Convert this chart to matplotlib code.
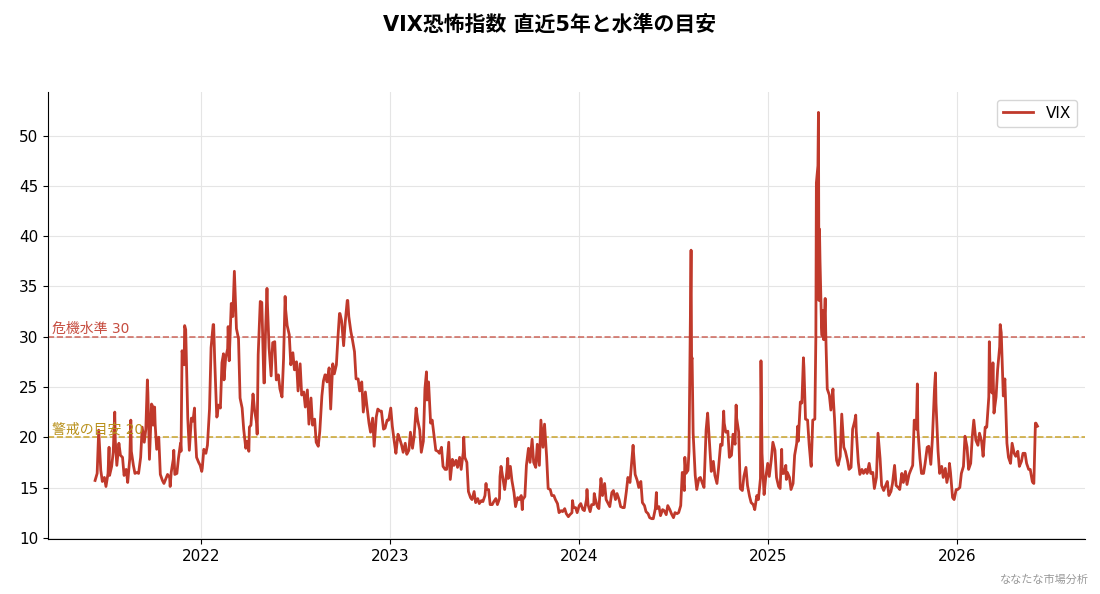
import matplotlib.pyplot as plt
import matplotlib.dates as mdates
import pandas as pd

plt.rcParams['font.family'] = ['DejaVu Sans', 'Noto Sans CJK JP']

# weekly (Friday) closes, one list per calendar year
vix_2021 = [15.7, 20.7, 15.6, 15.1, 16.2, 18.5, 17.2, 18.2, 16.2, 15.5,
            18.6, 16.4, 16.4, 21.0, 20.8, 17.8, 21.2, 18.8, 16.3, 15.4,
            16.3, 16.5, 16.3, 17.9, 28.6, 30.7, 18.7, 21.6, 18.0, 17.2]
vix_2022 = [18.8, 19.2, 28.9, 27.7, 23.2, 27.4, 27.8, 27.6, 32.0, 30.8,
            23.9, 20.8, 19.6, 21.2, 22.7, 28.2, 33.4, 30.2, 28.9, 29.4,
            25.7, 24.8, 27.8, 31.1, 27.2, 26.7, 24.6, 24.2, 23.0, 21.3,
            21.2, 19.5, 20.6, 25.6, 25.5, 22.8, 26.3, 29.9, 31.6, 31.4,
            32.0, 29.7, 25.8, 24.6, 22.5, 23.1, 20.5, 19.1, 22.8, 22.6,
            20.9, 21.7]
vix_2023 = [21.1, 18.4, 19.9, 18.5, 18.3, 20.5, 20.0, 21.7, 18.5, 24.8,
            25.5, 21.7, 18.7, 18.4, 17.1, 16.8, 15.8, 17.2, 17.0, 16.8,
            18.0, 14.6, 13.8, 13.5, 13.4, 13.6, 14.8, 13.3, 13.6, 13.3,
            17.1, 14.8, 15.9, 15.7, 13.1, 13.8, 13.8, 17.2, 17.5, 17.5,
            19.3, 21.7, 21.3, 14.9, 14.2, 13.8, 12.5, 12.6, 12.4, 12.3,
            13.0, 12.5]
vix_2024 = [13.4, 12.7, 13.3, 13.3, 13.9, 12.9, 14.2, 13.8, 13.1, 14.7,
            14.4, 13.1, 13.0, 16.0, 17.3, 16.3, 15.0, 13.5, 12.6, 12.0,
            11.9, 12.9, 12.2, 12.7, 13.2, 12.4, 12.5, 12.5, 16.5, 16.4,
            23.4, 20.4, 14.8, 16.0, 15.0, 22.4, 16.6, 16.2, 16.9, 19.2,
            20.5, 18.0, 20.3, 21.9, 14.9, 16.1, 15.2, 13.5, 12.8, 13.8,
            18.4, 15.9]
vix_2025 = [16.1, 19.5, 16.0, 14.9, 16.4, 16.5, 14.8, 18.2, 19.6, 23.4,
            21.8, 19.3, 21.7, 45.3, 37.6, 29.7, 24.8, 22.7, 21.9, 17.2,
            22.3, 18.6, 16.8, 20.8, 20.6, 16.3, 16.4, 16.4, 16.4, 14.9,
            20.4, 15.2, 15.1, 14.2, 15.4, 15.2, 14.8, 15.5, 15.3, 16.7,
            21.7, 20.8, 16.4, 17.4, 19.1, 19.8, 23.4, 16.4, 16.0, 15.5,
            16.5, 13.8]
vix_2026 = [14.8, 16.4, 20.1, 16.8, 20.0, 19.7, 20.4, 18.1, 21.0, 26.0,
            22.4, 26.7, 30.4, 25.8, 18.0, 19.4, 18.1, 17.1, 18.4, 17.4,
            16.8, 15.4, 21.1]
fri_starts = ['2021-06-11', '2022-01-07', '2023-01-06',
              '2024-01-05', '2025-01-03', '2026-01-02']

# Tuesday closes, one list per calendar year
tue_2021 = [16.4, 16.7, 16.0, 16.4, 17.1, 19.7, 19.4, 18.0, 16.8, 17.9,
            17.2, 16.5, 18.0, 19.5, 24.4, 23.3, 21.3, 20.0, 15.7, 15.9,
            16.0, 17.8, 16.4, 19.4, 27.2, 21.9, 21.9, 21.0, 17.5]
tue_2022 = [16.9, 18.4, 22.8, 31.2, 22.0, 22.9, 25.7, 28.8, 33.3, 35.1,
            29.8, 22.9, 18.9, 21.0, 24.3, 21.4, 33.5, 25.4, 33.0, 26.1,
            29.5, 26.2, 24.0, 32.7, 30.2, 28.4, 27.5, 27.3, 24.5, 24.7,
            23.9, 21.8, 19.1, 24.1, 26.2, 26.9, 27.3, 27.2, 32.3, 29.1,
            33.6, 30.5, 28.5, 25.8, 25.5, 24.5, 21.4, 21.9, 22.0, 22.6,
            20.8, 21.7]
tue_2023 = [22.9, 19.5, 20.3, 19.2, 19.4, 18.7, 18.9, 22.9, 20.7, 19.6,
            23.7, 21.4, 20.0, 18.6, 19.0, 16.8, 19.5, 17.8, 17.7, 18.0,
            18.5, 17.5, 14.0, 14.6, 13.9, 13.7, 14.2, 14.8, 13.3, 13.9,
            13.9, 15.8, 16.5, 17.1, 14.5, 14.0, 14.2, 14.1, 18.9, 19.8,
            17.0, 17.2, 19.0, 18.1, 14.8, 14.2, 13.4, 12.7, 12.9, 12.1,
            12.5, 13.0]
tue_2024 = [13.2, 12.8, 13.8, 12.6, 13.3, 13.1, 15.9, 15.4, 13.4, 14.5,
            13.8, 13.8, 13.0, 14.6, 15.5, 18.4, 15.7, 15.6, 13.2, 12.4,
            11.9, 12.9, 13.1, 12.8, 12.3, 12.8, 12.0, 12.4, 13.2, 14.7,
            16.7, 27.7, 16.2, 15.9, 15.4, 20.7, 19.1, 17.6, 15.4, 19.3,
            21.4, 20.6, 18.2, 19.3, 20.5, 14.7, 17.0, 14.1, 13.3, 14.2,
            15.9, 14.3, 17.4]
tue_2025 = [17.8, 18.7, 15.1, 16.4, 17.2, 16.0, 15.4, 19.4, 23.5, 26.9,
            21.7, 17.1, 21.8, 52.3, 30.1, 30.6, 24.2, 24.8, 17.7, 18.1,
            19.0, 17.7, 17.0, 21.6, 17.5, 16.8, 16.8, 17.4, 16.5, 16.0,
            17.9, 14.7, 15.6, 14.6, 17.2, 15.0, 16.4, 16.6, 16.3, 17.2,
            20.8, 17.9, 16.4, 19.0, 17.3, 24.7, 18.6, 17.1, 16.9, 16.5,
            14.0, 14.8]
tue_2026 = [15.0, 17.1, 19.0, 17.4, 21.2, 19.2, 19.6, 21.0, 24.0, 25.0,
            24.0, 29.0, 24.1, 19.4, 17.4, 18.4, 18.6, 17.6, 18.4, 16.8,
            15.6, 21.4]
tue_starts = ['2021-06-15', '2022-01-04', '2023-01-03',
              '2024-01-02', '2025-01-07', '2026-01-06']

# other daily highs and lows that the two weekly samples miss
extra_dates = ['2021-07-08', '2021-07-19', '2021-08-19', '2021-09-20', '2021-09-30',
               '2021-10-04', '2021-11-03', '2021-11-10', '2021-11-24', '2021-12-01',
               '2021-12-20',
               '2022-01-03', '2022-01-26', '2022-02-02', '2022-02-14', '2022-02-23',
               '2022-03-07', '2022-04-04', '2022-04-20', '2022-05-04', '2022-05-09',
               '2022-06-13', '2022-08-29', '2022-09-26', '2022-10-12', '2022-11-10',
               '2023-03-13', '2023-05-24', '2023-07-06', '2023-08-02', '2023-08-17',
               '2023-09-14', '2023-12-20',
               '2024-01-17', '2024-01-31', '2024-04-15', '2024-05-30', '2024-07-24',
               '2024-08-01', '2024-08-05', '2024-08-07', '2024-10-07', '2024-10-31',
               '2024-12-18',
               '2025-01-27', '2025-02-05', '2025-02-27', '2025-03-10', '2025-03-24',
               '2025-04-03', '2025-04-07', '2025-04-09', '2025-04-10', '2025-04-14',
               '2025-04-16', '2025-04-21', '2025-04-23', '2025-05-07', '2025-05-12',
               '2025-06-19', '2025-10-16', '2025-11-20', '2025-12-17',
               '2026-02-02', '2026-03-04', '2026-03-09', '2026-03-11', '2026-03-25',
               '2026-05-27', '2026-06-01']
extra_vals = [19.0, 22.5, 21.7, 25.7, 23.1,
              23.0, 15.1, 18.7, 18.6, 31.1,
              22.9,
              16.6, 31.2, 22.1, 28.3, 31.0,
              36.5, 18.6, 20.3, 25.4, 34.8,
              34.0, 26.2, 32.3, 33.6, 23.5,
              26.5, 20.0, 15.4, 16.1, 17.9,
              12.8, 13.7,
              14.8, 14.4, 19.2, 14.5, 18.0,
              18.6, 38.6, 27.9, 22.6, 23.2,
              27.6,
              18.8, 15.8, 21.1, 27.9, 17.5,
              30.0, 47.0, 33.6, 40.7, 30.9,
              32.6, 33.8, 28.5, 23.6, 18.4,
              22.2, 25.3, 26.4, 17.4,
              21.7, 29.5, 24.4, 27.4, 31.2,
              15.5, 21.4]

danger_level = 30
warning_level = 20

parts = []
for start, vals in zip(fri_starts, [vix_2021, vix_2022, vix_2023, vix_2024, vix_2025, vix_2026]):
    parts.append(pd.Series(vals, index=pd.date_range(start, periods=len(vals), freq='W-FRI')))
for start, vals in zip(tue_starts, [tue_2021, tue_2022, tue_2023, tue_2024, tue_2025, tue_2026]):
    parts.append(pd.Series(vals, index=pd.date_range(start, periods=len(vals), freq='W-TUE')))
parts.append(pd.Series(extra_vals, index=pd.to_datetime(extra_dates)))
vix = pd.concat(parts)
vix = vix[~vix.index.duplicated(keep='last')].sort_index()

fig = plt.figure(figsize=(11, 5.94), dpi=100)
ax = fig.add_axes([0.0436, 0.0926, 0.9424, 0.7524])

ax.plot(vix.index, vix.values, color='#c0392b', lw=2, label='VIX', zorder=3)

ax.axhline(danger_level, color='#c0392b', ls='--', lw=1.2, alpha=0.7, zorder=2)
ax.axhline(warning_level, color='#c9a227', ls='--', lw=1.2, alpha=0.9, zorder=2)
ax.text(0.004, danger_level + 0.1, '危機水準 30', transform=ax.get_yaxis_transform(),
        color='#c0392b', fontsize=10, va='bottom', alpha=0.9)
ax.text(0.004, warning_level + 0.1, '警戒の目安 20', transform=ax.get_yaxis_transform(),
        color='#b8901a', fontsize=10, va='bottom')

ax.xaxis.set_major_locator(mdates.YearLocator())
ax.xaxis.set_major_formatter(mdates.DateFormatter('%Y'))
ax.set_yticks([10, 15, 20, 25, 30, 35, 40, 45, 50])
ax.tick_params(labelsize=11)

ax.grid(True, color='#e5e5e5', lw=0.8)
ax.set_axisbelow(True)
ax.spines['top'].set_visible(False)
ax.spines['right'].set_visible(False)

ax.legend(loc='upper right', fontsize=11, frameon=True, edgecolor='#cccccc')

fig.suptitle('VIX恐怖指数 直近5年と水準の目安', fontsize=15, fontweight='bold', y=0.975)
fig.text(0.99, 0.015, 'ななたな市場分析', ha='right', va='bottom', fontsize=8, color='#999999')

fig.savefig('out.png', dpi=100)
